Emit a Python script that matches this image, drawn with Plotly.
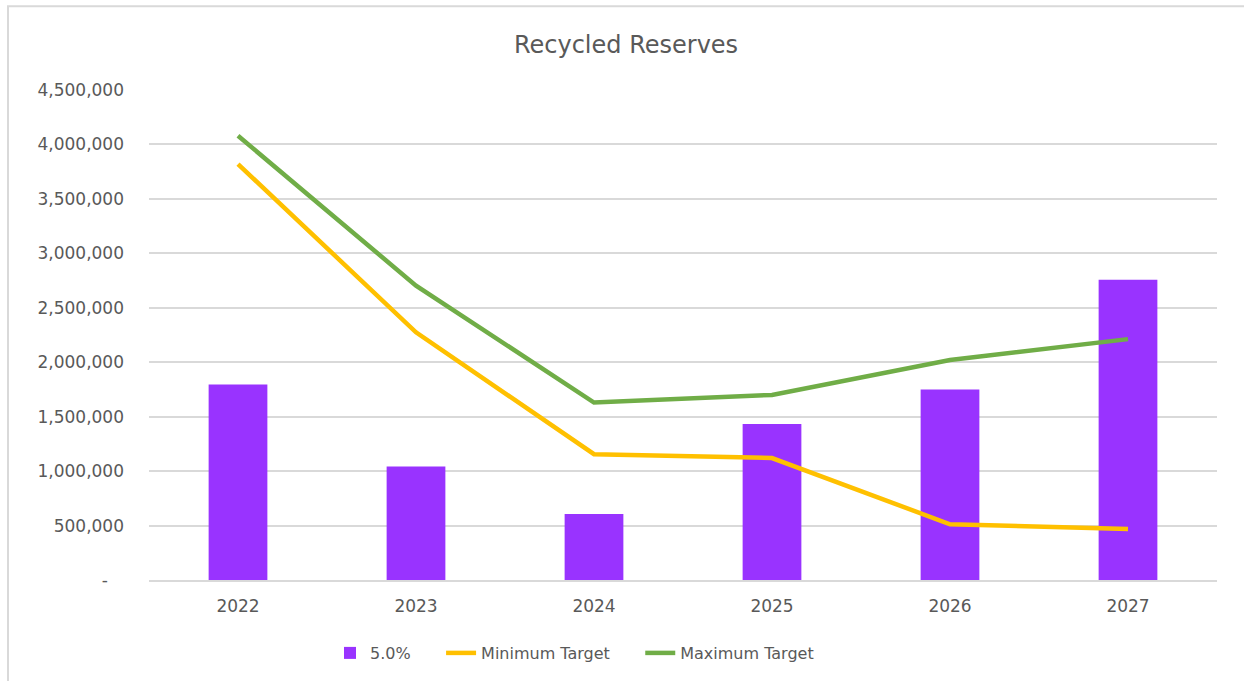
import plotly.graph_objects as go

years = ["2022", "2023", "2024", "2025", "2026", "2027"]
reserves_5pct = [1795000, 1043000, 605000, 1432000, 1750000, 2758000]
minimum_target = [3820000, 2275000, 1155000, 1120000, 512000, 469000]
maximum_target = [4080000, 2703000, 1630000, 1700000, 2020000, 2212000]

series_names = ["5.0%", "Minimum Target", "Maximum Target"]

y_tickvals = [0, 500000, 1000000, 1500000, 2000000, 2500000, 3000000, 3500000, 4000000, 4500000]
y_ticktext = ["-\u00a0\u00a0\u00a0", "500,000", "1,000,000", "1,500,000", "2,000,000", "2,500,000",
              "3,000,000", "3,500,000", "4,000,000", "4,500,000"]

FONT = "'DejaVu Sans', 'Open Sans', sans-serif"
TXT = "#595959"
PAD = "\u00a0\u00a0\u00a0\u00a0\u00a0"

fig = go.Figure()
fig.add_trace(go.Bar(x=years, y=reserves_5pct, name=series_names[0] + PAD,
                     marker=dict(color="#9933FF", line=dict(width=0)), width=0.33))
fig.add_trace(go.Scatter(x=years, y=minimum_target, name=series_names[1] + PAD, mode="lines",
                         line=dict(color="#FFC000", width=4.5)))
fig.add_trace(go.Scatter(x=years, y=maximum_target, name=series_names[2], mode="lines",
                         line=dict(color="#70AD47", width=4.5)))

L, R, T, B = 149, 1244 - 1217, 90, 681 - 581
W, H = 1244, 681
pw, ph = W - L - R, H - T - B

fig.update_layout(
    width=W, height=H,
    margin=dict(l=L, r=R, t=T, b=B, pad=0),
    paper_bgcolor="white", plot_bgcolor="white",
    font=dict(family=FONT, color=TXT, size=17),
    title=dict(text="Recycled Reserves", x=626 / W, xanchor="center", y=1 - 45 / H, yanchor="middle",
               font=dict(size=24, color=TXT, family=FONT)),
    showlegend=True,
    legend=dict(orientation="h", x=(330 - L) / pw, xanchor="left", y=(581 - 653) / ph, yanchor="middle",
                font=dict(size=16, color=TXT, family=FONT), traceorder="normal", bgcolor="rgba(0,0,0,0)"),
    xaxis=dict(type="category", showgrid=False, showline=True, linecolor="#D9D9D9", linewidth=1.5,
               ticks="", tickfont=dict(size=17, color=TXT, family=FONT), ticklabelstandoff=10, zeroline=False),
    yaxis=dict(range=[0, 4500000], tickvals=y_tickvals, ticktext=y_ticktext, showgrid=True,
               gridcolor="#D9D9D9", gridwidth=1.5, zeroline=False, showline=False, ticks="",
               tickfont=dict(size=17, color=TXT, family=FONT), ticklabelstandoff=24),
    shapes=[dict(type="rect", xref="paper", yref="paper", x0=(8 - L) / pw, x1=(W + 20 - L) / pw,
                 y0=(581 - H - 20) / ph, y1=(581 - 6) / ph, line=dict(color="#D9D9D9", width=2),
                 fillcolor="rgba(0,0,0,0)", layer="below")],
)

fig.write_html("out.html")
